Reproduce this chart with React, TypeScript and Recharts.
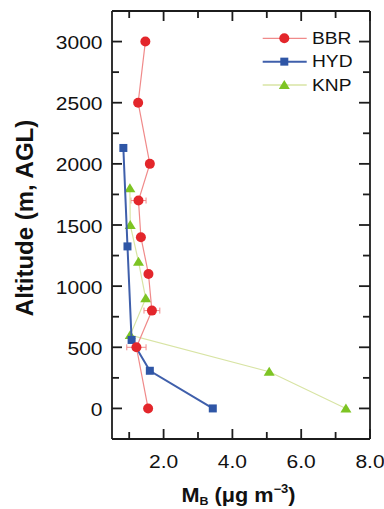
import React from 'react';
import { ScatterChart, Scatter, XAxis, YAxis, ErrorBar, Legend } from 'recharts';

// ---- data ----
const seriesNames = ['BBR', 'HYD', 'KNP'];
const bbrAlt = [3000, 2500, 2000, 1700, 1400, 1100, 800, 500, 0];
const bbrMb = [1.47, 1.26, 1.6, 1.27, 1.34, 1.56, 1.66, 1.21, 1.55];
const bbrErr = [0, 0, 0, 0.22, 0, 0, 0.23, 0.28, 0];
const hydAlt = [2130, 1325, 560, 308, 0];
const hydMb = [0.83, 0.95, 1.07, 1.6, 3.43];
const knpAlt = [1800, 1500, 1200, 900, 600, 300, 0];
const knpMb = [1.02, 1.03, 1.27, 1.48, 1.03, 5.07, 7.3];
const xTicks = [1, 2, 3, 4, 5, 6, 7, 8];
const xTickLabels = ['', '2.0', '', '4.0', '', '6.0', '', '8.0'];
const yTicks = [0, 250, 500, 750, 1000, 1250, 1500, 1750, 2000, 2250, 2500, 2750, 3000];
const yTickLabels = ['0', '', '500', '', '1000', '', '1500', '', '2000', '', '2500', '', '3000'];
const xDomain = [0.5, 8];
const yDomain = [-250, 3250];

const bbrData = bbrAlt.map((a, i) => ({ alt: a, m: bbrMb[i], err: bbrErr[i] }));
const hydData = hydAlt.map((a, i) => ({ alt: a, m: hydMb[i] }));
const knpData = knpAlt.map((a, i) => ({ alt: a, m: knpMb[i] }));

// ---- styles ----
const FONT = '"Liberation Sans", Arial, sans-serif';
const AXIS = '#1c1c1c';
const RED = '#e3262b';
const RED_LINE = '#f08a8a';
const BLUE = '#2f56a6';
const BLUE_LINE = '#3f5fab';
const GREEN = '#7dc423';
const GREEN_LINE = '#d8e4a4';
const STRETCH = 1.2;

const charW: Record<string, number> = { '.': 0.278, B: 0.667, R: 0.722, H: 0.722, Y: 0.667, D: 0.722, K: 0.667, N: 0.722, P: 0.667 };
const textWidth = (s: string, size: number) => {
  let w = 0;
  for (const c of s) w += charW[c] ?? 0.556;
  return w * size * STRETCH;
};

const StretchText = ({ x, y, s, size, anchor }: any) => (
  <text
    x={x}
    y={y}
    textAnchor={anchor}
    fontFamily={FONT}
    fontSize={size}
    fill="#111"
    textLength={textWidth(s, size)}
    lengthAdjust="spacingAndGlyphs"
  >
    {s}
  </text>
);

const BottomTick = (props: any) => {
  const { x, y, payload } = props;
  const idx = xTicks.indexOf(payload.value);
  const lab = xTickLabels[idx] || '';
  const len = lab ? 10 : 7;
  return (
    <g>
      <line x1={x} x2={x} y1={y} y2={y - len} stroke={AXIS} strokeWidth={1.8} />
      {lab && <StretchText x={x} y={y + 29} s={lab} size={17.5} anchor="middle" />}
    </g>
  );
};

const TopTick = (props: any) => {
  const { x, y, payload } = props;
  const idx = xTicks.indexOf(payload.value);
  const len = xTickLabels[idx] ? 10 : 7;
  return <line x1={x} x2={x} y1={y} y2={y + len} stroke={AXIS} strokeWidth={1.8} />;
};

const LeftTick = (props: any) => {
  const { x, y, payload } = props;
  const idx = yTicks.indexOf(payload.value);
  const lab = yTickLabels[idx] || '';
  const len = lab ? 10 : 7;
  return (
    <g>
      <line x1={x} x2={x + len} y1={y} y2={y} stroke={AXIS} strokeWidth={1.8} />
      {lab && <StretchText x={x - 9.5} y={y + 7.5} s={lab} size={17.5} anchor="end" />}
    </g>
  );
};

const RightTick = (props: any) => {
  const { x, y, payload } = props;
  const idx = yTicks.indexOf(payload.value);
  const len = yTickLabels[idx] ? 11 : 7;
  return <line x1={x} x2={x - len} y1={y} y2={y} stroke={AXIS} strokeWidth={1.8} />;
};

const CircleMark = (p: any) => <circle cx={p.cx} cy={p.cy} r={5} fill={RED} />;
const SquareMark = (p: any) => <rect x={p.cx - 4} y={p.cy - 4} width={8} height={8} fill={BLUE} />;
const TriMark = (p: any) => (
  <polygon
    points={`${p.cx - 5.5},${p.cy + 4} ${p.cx + 5.5},${p.cy + 4} ${p.cx},${p.cy - 5}`}
    fill={GREEN}
  />
);
const NoMark = () => <g />;

const legendRows = [
  { color: RED_LINE, w: 1.2, mark: (x: number, y: number) => <circle cx={x} cy={y} r={5} fill={RED} /> },
  { color: BLUE_LINE, w: 2, mark: (x: number, y: number) => <rect x={x - 4} y={y - 4} width={8} height={8} fill={BLUE} /> },
  {
    color: GREEN_LINE,
    w: 1.5,
    mark: (x: number, y: number) => (
      <polygon points={`${x - 5.5},${y + 4} ${x + 5.5},${y + 4} ${x},${y - 5}`} fill={GREEN} />
    ),
  },
];

const LegendContent = () => (
  <svg width={125} height={75} style={{ display: 'block' }}>
    {seriesNames.map((name, i) => {
      const y = 13.3 + i * 23.35;
      const r = legendRows[i];
      return (
        <g key={name}>
          <line x1={7.7} x2={51.7} y1={y} y2={y} stroke={r.color} strokeWidth={r.w} />
          {r.mark(29.3, y)}
          <text
            x={57}
            y={y + 5.7}
            fontFamily={FONT}
            fontSize={16}
            fill="#111"
            textLength={textWidth(name, 16)}
            lengthAdjust="spacingAndGlyphs"
          >
            {name}
          </text>
        </g>
      );
    })}
  </svg>
);

const YTitle = () => (
  <text
    x={33}
    y={218}
    transform="rotate(-90, 33, 218)"
    textAnchor="middle"
    fontFamily={FONT}
    fontWeight="bold"
    fontSize={24}
    fill="#111"
  >
    Altitude (m, AGL)
  </text>
);

const XTitle = () => (
  <text
    x={181.5}
    y={501.7}
    fontFamily={FONT}
    fontWeight="bold"
    fontSize={20}
    fill="#111"
    textLength={114}
    lengthAdjust="spacingAndGlyphs"
  >
    M
    <tspan fontSize={11.5} dy={3}>B</tspan>
    <tspan dy={-3}> (μg m</tspan>
    <tspan fontSize={12} dy={-9}>−3</tspan>
    <tspan dy={9}>)</tspan>
  </text>
);

export default function App() {
  return (
    <div style={{ position: 'absolute', left: 0, top: 0, width: 384, height: 509, background: '#fff' }}>
      <ScatterChart width={384} height={509} margin={{ top: 10, right: 13, left: 0, bottom: 0 }}>
        <XAxis
          xAxisId="b"
          type="number"
          dataKey="m"
          domain={xDomain}
          ticks={xTicks}
          interval={0}
          allowDataOverflow
          orientation="bottom"
          height={70}
          tickSize={0}
          tickMargin={0}
          tickLine={false}
          axisLine={{ stroke: AXIS, strokeWidth: 1.8 }}
          tick={<BottomTick />}
          label={{ content: () => <XTitle /> }}
        />
        <XAxis
          xAxisId="t"
          type="number"
          dataKey="m"
          domain={xDomain}
          ticks={xTicks}
          interval={0}
          allowDataOverflow
          orientation="top"
          height={1}
          tickSize={0}
          tickMargin={0}
          tickLine={false}
          axisLine={{ stroke: AXIS, strokeWidth: 1.8 }}
          tick={<TopTick />}
        />
        <YAxis
          yAxisId="l"
          type="number"
          dataKey="alt"
          domain={yDomain}
          ticks={yTicks}
          interval={0}
          allowDataOverflow
          orientation="left"
          width={112}
          tickSize={0}
          tickMargin={0}
          tickLine={false}
          axisLine={{ stroke: AXIS, strokeWidth: 1.8 }}
          tick={<LeftTick />}
          label={{ content: () => <YTitle /> }}
        />
        <YAxis
          yAxisId="r"
          type="number"
          dataKey="alt"
          domain={yDomain}
          ticks={yTicks}
          interval={0}
          allowDataOverflow
          orientation="right"
          width={1}
          tickSize={0}
          tickMargin={0}
          tickLine={false}
          axisLine={{ stroke: AXIS, strokeWidth: 1.8 }}
          tick={<RightTick />}
        />
        <Scatter
          name="hidden"
          xAxisId="t"
          yAxisId="r"
          data={bbrData}
          shape={<NoMark />}
          legendType="none"
          isAnimationActive={false}
        />
        <Scatter
          name="KNP"
          xAxisId="b"
          yAxisId="l"
          data={knpData}
          line={{ stroke: GREEN_LINE, strokeWidth: 1.2 }}
          shape={<TriMark />}
          isAnimationActive={false}
        />
        <Scatter
          name="HYD"
          xAxisId="b"
          yAxisId="l"
          data={hydData}
          line={{ stroke: BLUE_LINE, strokeWidth: 2 }}
          shape={<SquareMark />}
          isAnimationActive={false}
        />
        <Scatter
          name="BBR"
          xAxisId="b"
          yAxisId="l"
          data={bbrData}
          line={{ stroke: RED_LINE, strokeWidth: 1.2 }}
          shape={<CircleMark />}
          isAnimationActive={false}
        >
          <ErrorBar dataKey="err" direction="x" width={3} stroke={RED_LINE} strokeWidth={1} isAnimationActive={false} />
        </Scatter>
        <Legend
          layout="vertical"
          align="center"
          verticalAlign="middle"
          wrapperStyle={{ left: 255, top: 25, width: 125 }}
          content={<LegendContent />}
        />
      </ScatterChart>
    </div>
  );
}
